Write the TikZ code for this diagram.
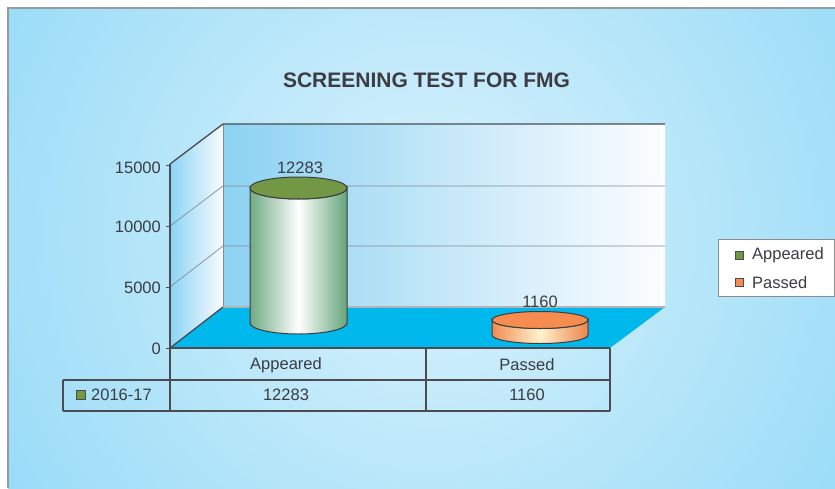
\documentclass[tikz,border=0pt]{standalone}
\usepackage{fontspec}
\setmainfont{Liberation Sans}
\definecolor{bgin}{RGB}{218,242,252}
\definecolor{bgout}{RGB}{100,202,244}
\definecolor{frameline}{RGB}{150,155,160}
\definecolor{wallL}{RGB}{140,210,242}
\definecolor{wallR}{RGB}{253,253,255}
\definecolor{sideL}{RGB}{140,212,244}
\definecolor{sideR}{RGB}{248,251,255}
\definecolor{floorc}{RGB}{0,184,236}
\definecolor{axisc}{RGB}{75,75,80}
\definecolor{gridc}{RGB}{130,140,150}
\definecolor{txt}{RGB}{60,60,66}
\definecolor{gEdgeL}{RGB}{112,170,132}
\definecolor{gEdgeR}{RGB}{100,164,122}
\definecolor{gTop}{RGB}{114,152,70}
\definecolor{oEdgeL}{RGB}{240,140,82}
\definecolor{oEdgeR}{RGB}{236,132,76}
\definecolor{oMid}{RGB}{255,242,205}
\definecolor{oTop}{RGB}{246,140,80}
\definecolor{cylline}{RGB}{60,60,60}
\begin{document}
\begin{tikzpicture}[x=1pt,y=-1pt,
  lbl/.style={text=txt,font=\fontsize{16.5}{18}\selectfont,inner sep=0pt},
  ttl/.style={text=txt,font=\fontsize{21}{24}\selectfont\bfseries,inner sep=0pt},
  axisline/.style={draw=axisc,line width=1.3pt},
  gridline/.style={draw=gridc,line width=0.7pt},
  tabline/.style={draw=axisc,line width=1.3pt},
  cylout/.style={draw=cylline,line width=1pt},
  keybox/.style={draw=axisc,line width=0.6pt,minimum size=8pt,inner sep=0pt}]
\useasboundingbox (0,0) rectangle (835,488);
% background
\begin{scope}
  \clip (8,8) rectangle (835,488);
  \shade[inner color=bgin,outer color=bgout] (430,235) circle (900pt);
\end{scope}
\draw[frameline,line width=1.2pt] (8,488) -- (8,8) -- (835,8);
% title
\node[ttl] (title) at (426.5,80.5) {SCREENING TEST FOR FMG};
% side wall
\shade[left color=sideL,right color=sideR] (170,164) -- (223,124) -- (223,307) -- (170,348) -- cycle;
% back wall
\shade[left color=wallL,right color=wallR] (223,124) rectangle (665,307);
% gridlines
\draw[gridline] (170,226) -- (223,186) -- (665,186);
\draw[gridline] (170,287) -- (223,246) -- (665,246);
\draw[gridc,line width=0.8pt] (223,124) -- (223,307);
% floor
\fill[floorc] (170,348) -- (223,307) -- (665,307) -- (610,348) -- cycle;
\draw[draw={rgb,255:red,175;green,180;blue,185},line width=1.5pt] (223,307) -- (665,307);
% wall outlines
\draw[axisline] (170,164) -- (223,124) -- (665,124);
\draw[axisline] (170,348) -- (223,307);
\draw[axisline] (170,164) -- (170,411);
% ticks
\foreach \yy in {165,226,287,348} \draw[axisline,line width=0.8pt] (166,\yy) -- (170,\yy);
% axis labels
\node[lbl,anchor=east] (y15) at (161,168) {15000};
\node[lbl,anchor=east] (y10) at (161,227) {10000};
\node[lbl,anchor=east] (y5) at (161,288) {5000};
\node[lbl,anchor=east] (y0) at (161,349) {0};
% cylinder Appeared
\shade[left color=gEdgeL,right color=gEdgeR,middle color=white,cylout]
  (250,188) -- (250,323) arc[start angle=180,end angle=360,x radius=48.5pt,y radius=11pt]
  -- (347,188) arc[start angle=0,end angle=-180,x radius=48.5pt,y radius=11pt] -- cycle;
\filldraw[fill=gTop,cylout] (298.5,188) ellipse [x radius=48.5pt,y radius=11pt];
\node[lbl] (v1) at (300,168) {12283};
% cylinder Passed
\shade[left color=oEdgeL,right color=oEdgeR,middle color=oMid,cylout]
  (492,320) -- (492,335) arc[start angle=180,end angle=360,x radius=48pt,y radius=8.5pt]
  -- (588,320) arc[start angle=0,end angle=-180,x radius=48pt,y radius=8.5pt] -- cycle;
\filldraw[fill=oTop,cylout] (540,320) ellipse [x radius=48pt,y radius=8.5pt];
\node[lbl] (v2) at (540,302) {1160};
% table
\draw[tabline] (170,348) -- (610,348);
\draw[tabline] (63,380) -- (610,380);
\draw[tabline] (63,411) -- (610,411);
\draw[tabline] (63,380) -- (63,411);
\draw[tabline] (426,348) -- (426,411);
\draw[tabline] (610,348) -- (610,411);
\node[lbl] (h1) at (286,365) {Appeared};
\node[lbl] (h2) at (527,365) {Passed};
\node[keybox,fill=gTop,minimum size=9pt] (k0) at (80.5,394.5) {};
\node[lbl,anchor=west] (r0) at (91,395) {2016-17};
\node[lbl] (c1) at (286,395) {12283};
\node[lbl] (c2) at (527,395) {1160};
% legend
\filldraw[fill=white,draw={rgb,255:red,140;green,140;blue,140},line width=0.8pt] (718,239) rectangle (834,296);
\node[keybox,fill=gTop] (k1) at (739,255) {};
\node[lbl,anchor=west] (l1) at (752,255.5) {Appeared};
\node[keybox,fill=oTop] (k2) at (739,282) {};
\node[lbl,anchor=west] (l2) at (752,282.5) {Passed};
\end{tikzpicture}
\end{document}
